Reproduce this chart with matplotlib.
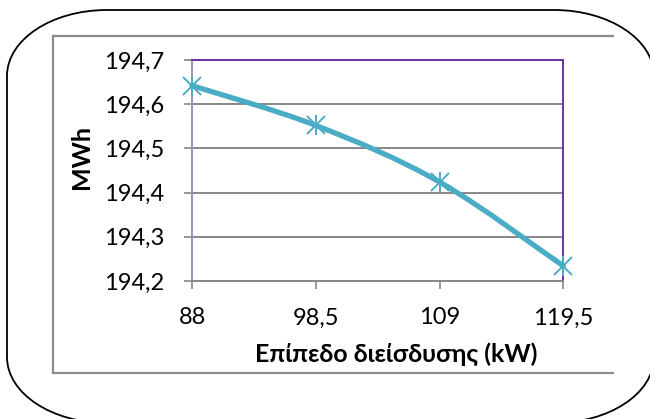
import matplotlib.pyplot as plt
import numpy as np
from matplotlib.path import Path
from matplotlib.patches import PathPatch
from matplotlib.lines import Line2D

plt.rcParams['font.family'] = ['Lato', 'DejaVu Sans']

# data
levels = [88, 98.5, 109, 119.5]
level_labels = ['88', '98,5', '109', '119,5']
energy = [194.642, 194.552, 194.424, 194.234]
y_ticks = [194.2, 194.3, 194.4, 194.5, 194.6, 194.7]
y_labels = ['194,2', '194,3', '194,4', '194,5', '194,6', '194,7']

line_col = '#4BACC6'
grid_col = '#878787'
W, H = 650, 419

fig = plt.figure(figsize=(6.5, 4.19), dpi=100)

# rounded outer frame (elliptical corners), in pixel units -> figure fraction
def rounded_frame(x0, y0, x1, y1, rx, ry):
    k = 0.5523
    v = [(x0 + rx, y0), (x1 - rx, y0),
         (x1 - rx + k*rx, y0), (x1, y0 + ry - k*ry), (x1, y0 + ry),
         (x1, y1 - ry),
         (x1, y1 - ry + k*ry), (x1 - rx + k*rx, y1), (x1 - rx, y1),
         (x0 + rx, y1),
         (x0 + rx - k*rx, y1), (x0, y1 - ry + k*ry), (x0, y1 - ry),
         (x0, y0 + ry),
         (x0, y0 + ry - k*ry), (x0 + rx - k*rx, y0), (x0 + rx, y0)]
    c = [Path.MOVETO, Path.LINETO] + [Path.CURVE4]*3 + [Path.LINETO] + [Path.CURVE4]*3 + \
        [Path.LINETO] + [Path.CURVE4]*3 + [Path.LINETO] + [Path.CURVE4]*3
    v = [(px / W, 1 - py / H) for px, py in v]
    return Path(v, c)

fig.add_artist(PathPatch(rounded_frame(7, 10, 654, 423, 100, 66), transform=fig.transFigure,
                         facecolor='white', edgecolor='black', lw=1.3, zorder=-5))
fl, fr, ft, fb = 53/W, 613/W, 1-36/H, 1-373/H
for xs, ys in [([fl, fr], [ft, ft]), ([fl, fr], [fb, fb]), ([fl, fl], [fb, ft])]:
    fig.add_artist(Line2D(xs, ys, transform=fig.transFigure, color='#8c8c8c', lw=1.6, zorder=-4))

ax = fig.add_axes([192/W, 1-281/H, (563.3-192)/W, (281-60)/H])
ax.set_facecolor('white')

# smoothed line like excel (bezier through the points)
x = np.array(levels)
y = np.array(energy)
pts = np.column_stack([x, y])
ext = np.vstack([pts[0], pts, pts[-1]])
verts = [tuple(pts[0])]
codes = [Path.MOVETO]
for i in range(len(pts)-1):
    p0, p1, p2, p3 = ext[i], ext[i+1], ext[i+2], ext[i+3]
    c1 = p1 + (p2 - p0) / 6
    c2 = p2 - (p3 - p1) / 6
    verts += [tuple(c1), tuple(c2), tuple(p2)]
    codes += [Path.CURVE4] * 3
ax.add_patch(PathPatch(Path(verts, codes), facecolor='none', edgecolor=line_col, lw=3.8,
                       zorder=3, capstyle='round', clip_on=False))

ax.plot(x, y, linestyle='none', marker='x', ms=13, mew=1.4, color=line_col, zorder=4, clip_on=False)
ax.plot(x, y, linestyle='none', marker='|', ms=15, mew=1.4, color=line_col, zorder=4, clip_on=False)

ax.set_xlim(88, 119.5)
ax.set_ylim(194.2, 194.7)
ax.set_xticks(levels)
ax.set_xticklabels(level_labels)
ax.set_yticks(y_ticks)
ax.set_yticklabels(y_labels)
ax.yaxis.grid(True, color=grid_col, lw=1.4)
ax.set_axisbelow(True)

ax.tick_params(axis='both', length=6, width=1.2, color=grid_col, labelsize=17, labelcolor='black')
ax.tick_params(axis='y', pad=14)
ax.tick_params(axis='x', pad=13)

ax.spines['top'].set_color('#7030A0')
ax.spines['right'].set_color('#7030A0')
ax.spines['left'].set_color('#a090b5')
ax.spines['bottom'].set_color(grid_col)
for s in ax.spines.values():
    s.set_linewidth(1.4)

ax.set_ylabel('MWh', fontsize=18, fontweight='bold', labelpad=8)
ax.set_xlabel('Επίπεδο διείσδυσης (kW)', fontsize=18, fontweight='bold', labelpad=10)
ax.xaxis.label.set_x(0.55)
ax.yaxis.label.set_y(0.56)

fig.savefig('out.png', dpi=100)
